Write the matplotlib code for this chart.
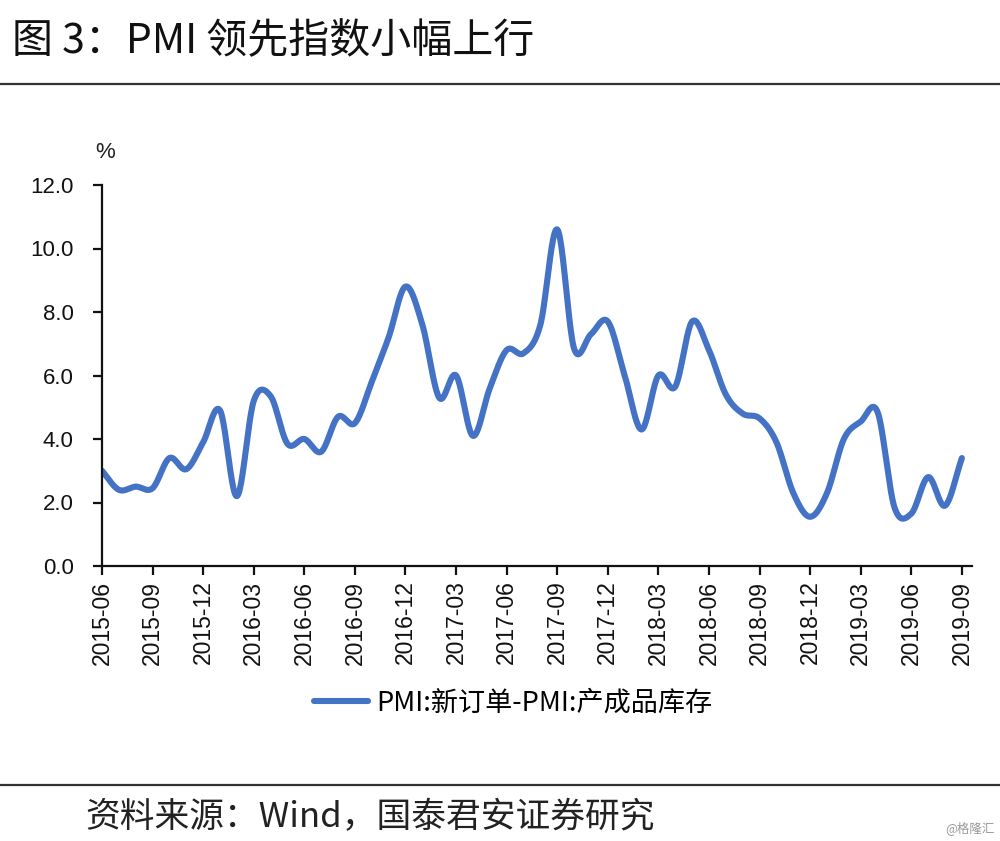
import numpy as np
import pandas as pd
import matplotlib
matplotlib.use("Agg")
import matplotlib.pyplot as plt
from matplotlib.lines import Line2D

plt.rcParams['font.family'] = ['Liberation Sans', 'Noto Sans CJK SC', 'DejaVu Sans']

# ---- data ----
months = [p.strftime('%Y-%m') for p in pd.period_range('2015-06', '2019-09', freq='M')]
values = [3.0, 2.4, 2.5, 2.45, 3.4, 3.05, 3.9, 4.9, 2.2, 5.2,
          5.35, 3.85, 4.0, 3.6, 4.7, 4.5, 5.8, 7.2, 8.8, 7.6,
          5.3, 6.0, 4.1, 5.6, 6.8, 6.7, 7.6, 10.6, 6.85, 7.3,
          7.7, 6.0, 4.3, 6.0, 5.65, 7.7, 6.8, 5.4, 4.8, 4.65,
          3.9, 2.3, 1.55, 2.3, 4.0, 4.55, 4.85, 1.85, 1.65, 2.8,
          1.9, 3.4]
series_name = 'PMI:新订单-PMI:产成品库存'
title = '图 3：PMI 领先指数小幅上行'
source = '资料来源：Wind，国泰君安证券研究'
yticks = [0, 2, 4, 6, 8, 10, 12]

# ---- smooth rendering (Catmull-Rom through the data points) ----
def smooth(y, n=24):
    y = np.asarray(y, float)
    N = len(y)
    m = np.zeros(N)
    m[1:-1] = (y[2:] - y[:-2]) / 2.0
    m[0] = y[1] - y[0]
    m[-1] = y[-1] - y[-2]
    xs, ys = [], []
    t = np.linspace(0, 1, n, endpoint=False)
    h00 = 2 * t**3 - 3 * t**2 + 1
    h10 = t**3 - 2 * t**2 + t
    h01 = -2 * t**3 + 3 * t**2
    h11 = t**3 - t**2
    for i in range(N - 1):
        xs.append(i + t)
        ys.append(h00 * y[i] + h10 * m[i] + h01 * y[i + 1] + h11 * m[i + 1])
    xs.append([N - 1])
    ys.append([y[-1]])
    return np.concatenate(xs), np.concatenate(ys)

fig = plt.figure(figsize=(10, 8.41), dpi=100)
ax = fig.add_axes([0.102, 1 - 566 / 841, 0.870, (566 - 185) / 841])

xs, ys = smooth(values)
color = '#4472C4'
ax.plot(xs, ys, color=color, lw=4.4, solid_capstyle='round', solid_joinstyle='round')

ax.set_xlim(0, 51.6)
ax.set_ylim(0, 12)
ax.set_yticks(yticks)
ax.set_yticklabels([f'{v:.1f}' for v in yticks], fontsize=16)
tick_idx = list(range(0, len(months), 3))
ax.set_xticks(tick_idx)
ax.set_xticklabels([months[i] for i in tick_idx], rotation=90, fontsize=16.5)
for s in ['top', 'right']:
    ax.spines[s].set_visible(False)
for s in ['left', 'bottom']:
    ax.spines[s].set_linewidth(1.6)
    ax.spines[s].set_color('#111111')
ax.tick_params(axis='y', direction='out', length=6.5, width=1.6, pad=14, colors='#111111')
ax.tick_params(axis='x', direction='out', length=6.5, width=1.6, pad=4, colors='#111111')

fig.text(0.095, 1 - 153 / 841, '%', fontsize=16, ha='left', va='center', color='#222222')

# legend
handle = Line2D([0], [0], color=color, lw=4.4, solid_capstyle='round')
fig.legend([handle], [series_name], loc='center', bbox_to_anchor=(0.513, 1 - 703 / 841),
           frameon=False, handlelength=2.0, handletextpad=0.3,
           prop={'family': ['Noto Sans CJK SC'], 'size': 19.5})

# title, rules, source
fig.text(0.012, 1 - 42 / 841, title, fontsize=29.5, ha='left', va='center',
         family=['Noto Sans CJK SC'], color='#111111')
fig.add_artist(Line2D([0, 1], [1 - 84 / 841] * 2, color='#333333', lw=1.6,
                      transform=fig.transFigure))
fig.add_artist(Line2D([0, 1], [1 - 785 / 841] * 2, color='#333333', lw=1.6,
                      transform=fig.transFigure))
fig.text(0.085, 1 - 818 / 841, source, fontsize=25, ha='left', va='center',
         family=['Noto Sans CJK SC'], color='#222222')
fig.text(0.995, 1 - 828 / 841, '@格隆汇', fontsize=9, ha='right', va='center',
         family=['Noto Sans CJK SC'], color='#999999')

fig.savefig('out.png', dpi=100, facecolor='white')
